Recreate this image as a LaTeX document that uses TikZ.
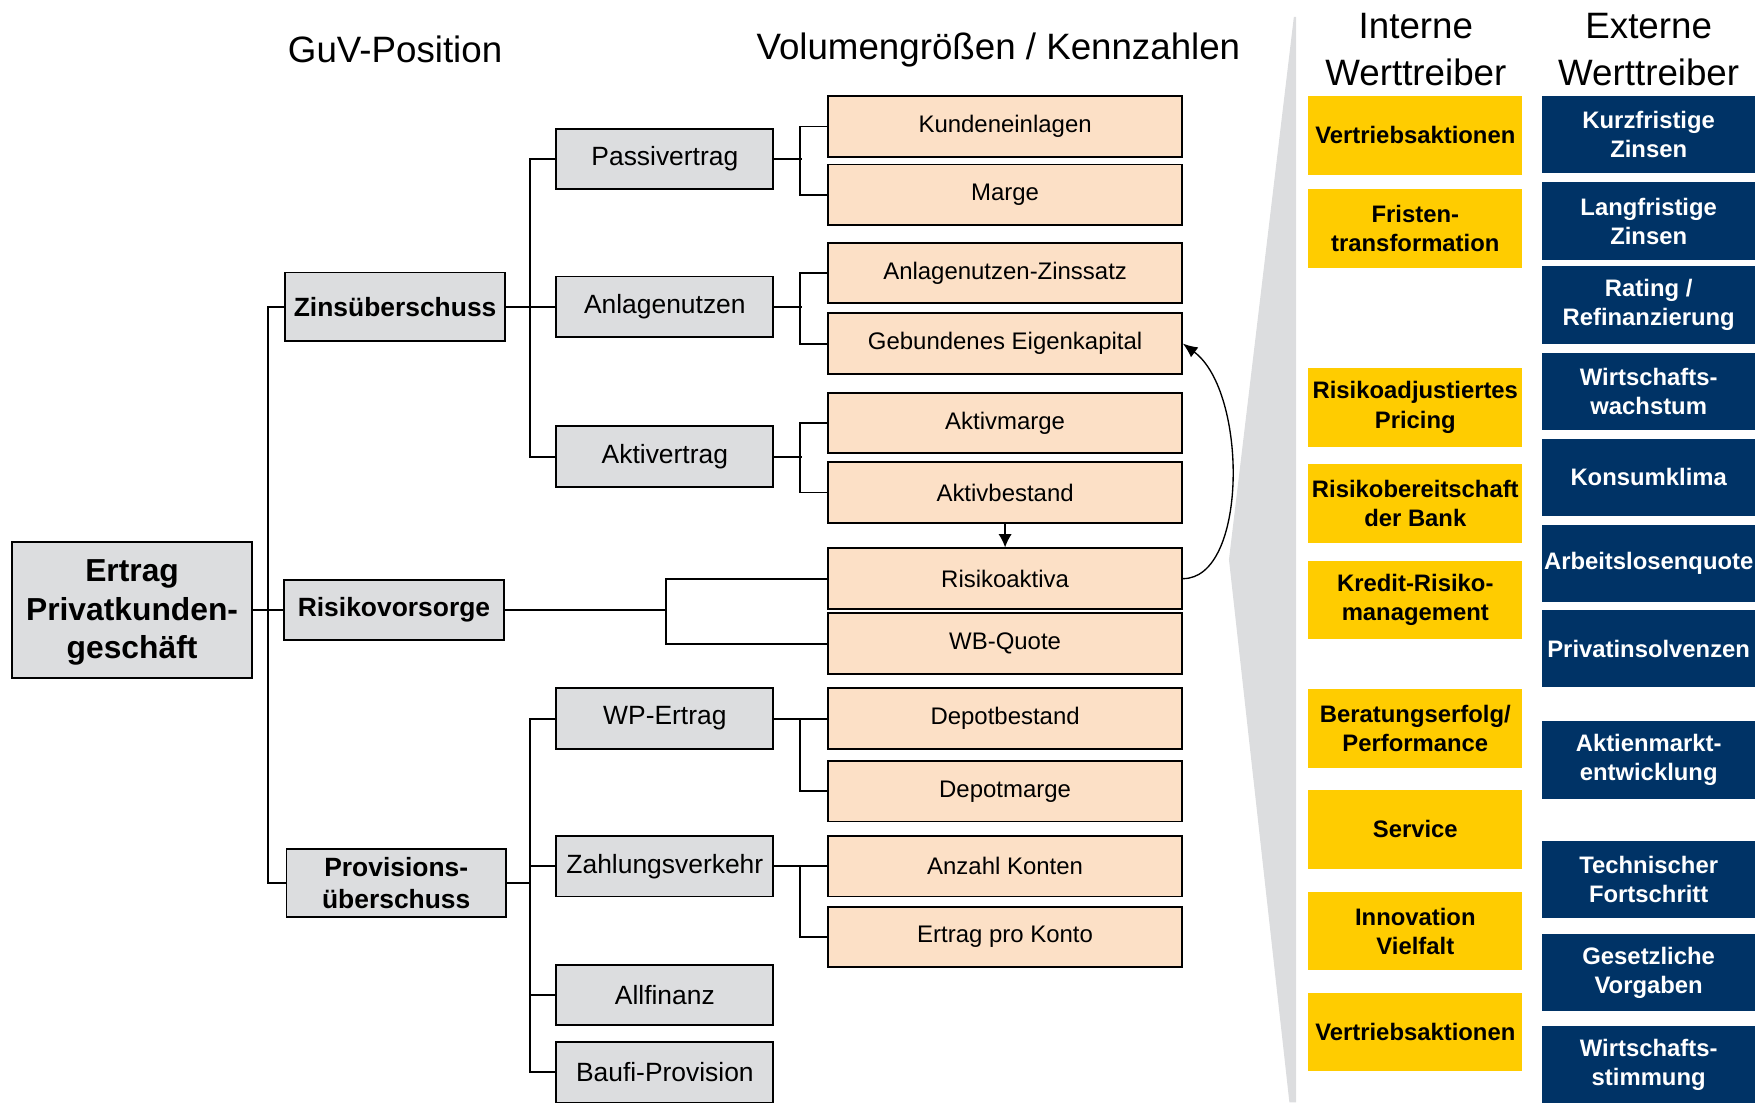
\documentclass[tikz,border=0pt]{standalone}
\usepackage{fontspec}
\setmainfont{Liberation Sans}
\usetikzlibrary{arrows.meta}
\definecolor{BoxGray}{HTML}{DCDDDF}
\definecolor{PeachFill}{HTML}{FCE0C6}
\definecolor{DriverYellow}{HTML}{FFCC00}
\definecolor{DriverBlue}{HTML}{003366}
\definecolor{WedgeGray}{HTML}{DCDDDF}

\begin{document}
\begin{tikzpicture}[x=0.5pt, y=-0.5pt, line width=0.85pt,
    guvroot/.style={draw, fill=BoxGray, align=center, inner sep=0pt, minimum width=107.5pt, minimum height=61pt, font=\fontsize{14.2}{17.3}\selectfont\bfseries},
    guvmain/.style={draw, fill=BoxGray, align=center, inner sep=0pt, minimum width=98pt, minimum height=30.5pt, font=\fontsize{11.8}{14}\selectfont\bfseries},
    guvsub/.style={draw, fill=BoxGray, inner sep=0pt, minimum width=97pt, minimum height=27pt, font=\fontsize{11.8}{14}\selectfont},
    kennzahl/.style={draw, fill=PeachFill, inner sep=0pt, minimum width=158pt, minimum height=27pt, font=\fontsize{10.7}{13}\selectfont},
    intdriver/.style={draw=none, fill=DriverYellow, text=black, align=center, inner sep=0pt, minimum width=95.5pt, minimum height=35pt, font=\fontsize{10.65}{13}\selectfont\bfseries},
    extdriver/.style={draw=none, fill=DriverBlue, text=white, align=center, inner sep=0pt, minimum width=95pt, minimum height=34.5pt, font=\fontsize{10.65}{13}\selectfont\bfseries},
    heading/.style={align=center, font=\fontsize{16.4}{21}\selectfont}]
    \useasboundingbox (0,0) rectangle (1568,985);

    % Wedge
    \fill[WedgeGray] (1156,15) -- (1098,500) -- (1152,985) -- (1158,985) -- (1158,15) -- cycle;

    % Headings
    \node[heading] (hguv) at (353,44) {GuV-Position};
    \node[heading] (hvol) at (892,45) {Volumengrößen / Kennzahlen};
    \node[heading] (hint) at (1265,44) {Interne\\Werttreiber};
    \node[heading] (hext) at (1473,44) {Externe\\Werttreiber};

    % GuV nodes
    \node[guvroot] (root) at (118,545) {\strut Ertrag\\Privatkunden-\\geschäft};
    \node[guvmain] (zins) at (353,274) {Zinsüberschuss};
    \node[guvmain, minimum height=27pt] (risiko) at (352,545) {Risikovorsorge};
    \node[guvmain] (prov) at (354,789) {Provisions-\\überschuss};

    \node[guvsub] (passiv) at (594,142) {Passivertrag};
    \node[guvsub] (anlage) at (594,274) {Anlagenutzen};
    \node[guvsub] (aktiv) at (594,408) {Aktivertrag};
    \node[guvsub] (wp) at (594,642) {WP-Ertrag};
    \node[guvsub] (zahlung) at (594,774) {Zahlungsverkehr};
    \node[guvsub] (allfin) at (594,889) {Allfinanz};
    \node[guvsub] (baufi) at (594,958) {Baufi-Provision};

    % Kennzahlen
    \node[kennzahl] (kunden) at (898,113) {Kundeneinlagen};
    \node[kennzahl] (marge) at (898,174) {Marge};
    \node[kennzahl] (zinssatz) at (898,244) {Anlagenutzen-Zinssatz};
    \node[kennzahl] (eigenkap) at (898,307) {Gebundenes Eigenkapital};
    \node[kennzahl] (aktmarge) at (898,378) {Aktivmarge};
    \node[kennzahl] (aktbestand) at (898,440) {Aktivbestand};
    \node[kennzahl] (risikoakt) at (898,517) {Risikoaktiva};
    \node[kennzahl] (wbquote) at (898,575) {WB-Quote};
    \node[kennzahl] (depotbest) at (898,642) {Depotbestand};
    \node[kennzahl] (depotmarge) at (898,707) {Depotmarge};
    \node[kennzahl] (konten) at (898,774) {Anzahl Konten};
    \node[kennzahl] (ertragkonto) at (898,837) {Ertrag pro Konto};

    % Interne Werttreiber
    \node[intdriver] (int1) at (1264.5,121) {Vertriebsaktionen};
    \node[intdriver] (int2) at (1264.5,204) {Fristen-\\transformation};
    \node[intdriver] (int3) at (1264.5,364) {Risikoadjustiertes\\Pricing};
    \node[intdriver] (int4) at (1264.5,450) {Risikobereitschaft\\der Bank};
    \node[intdriver] (int5) at (1264.5,536) {Kredit-Risiko-\\management};
    \node[intdriver] (int6) at (1264.5,651) {Beratungserfolg/\\Performance};
    \node[intdriver] (int7) at (1264.5,741) {Service};
    \node[intdriver] (int8) at (1264.5,832) {Innovation\\Vielfalt};
    \node[intdriver] (int9) at (1264.5,922) {Vertriebsaktionen};

    % Externe Werttreiber
    \node[extdriver] (ext1) at (1473,120.5) {Kurzfristige\\Zinsen};
    \node[extdriver] (ext2) at (1473,197.5) {Langfristige\\Zinsen};
    \node[extdriver] (ext3) at (1473,272.5) {Rating /\\Refinanzierung};
    \node[extdriver] (ext4) at (1473,350) {Wirtschafts-\\wachstum};
    \node[extdriver] (ext5) at (1473,426.5) {Konsumklima};
    \node[extdriver] (ext6) at (1473,503.5) {Arbeitslosenquote};
    \node[extdriver] (ext7) at (1473,579.5) {Privatinsolvenzen};
    \node[extdriver] (ext8) at (1473,679) {Aktienmarkt-\\entwicklung};
    \node[extdriver] (ext9) at (1473,786) {Technischer\\Fortschritt};
    \node[extdriver] (ext10) at (1473,869) {Gesetzliche\\Vorgaben};
    \node[extdriver] (ext11) at (1473,951.5) {Wirtschafts-\\stimmung};

    % Tree lines
    \draw (root.east) -- (risiko.west);
    \draw (zins.west) -- ++(-15,0) |- (prov.west);
    \draw (zins.east) -- (anlage.west);
    \draw (passiv.west) -- ++(-23,0) |- (aktiv.west);
    \draw (wp.west) -- ++(-23,0) coordinate (provjoin) |- (baufi.west);
    \draw (prov.east) -- (prov.east -| provjoin);
    \draw (zahlung.west) -- ++(-23,0);
    \draw (allfin.west) -- ++(-23,0);

    \draw (kunden.west) -- ++(-24,0) |- (marge.west);
    \draw (passiv.east) -- ++(25,0);
    \draw (zinssatz.west) -- ++(-24,0) |- (eigenkap.west);
    \draw (anlage.east) -- ++(25,0);
    \draw (aktmarge.west) -- ++(-24,0) |- (aktbestand.west);
    \draw (aktiv.east) -- ++(25,0);
    \draw (depotbest.west) -- ++(-24,0) |- (depotmarge.west);
    \draw (wp.east) -- (depotbest.west);
    \draw (konten.west) -- ++(-24,0) |- (ertragkonto.west);
    \draw (zahlung.east) -- (konten.west);

    \coordinate (rvjoin) at (595,545);
    \draw (risiko.east) -- (rvjoin);
    \draw (risikoakt.west) -| (rvjoin) |- (wbquote.west);

    % Arrows
    \draw[-{Latex[length=6pt, width=6pt]}, line width=0.8pt] (aktbestand.south) -- (risikoakt.north);
    \draw[-{Latex[length=6.5pt, width=5.5pt]}, line width=0.6pt] (risikoakt.east) .. controls (1115,517) and (1115,350) .. (eigenkap.east);
\end{tikzpicture}
\end{document}
